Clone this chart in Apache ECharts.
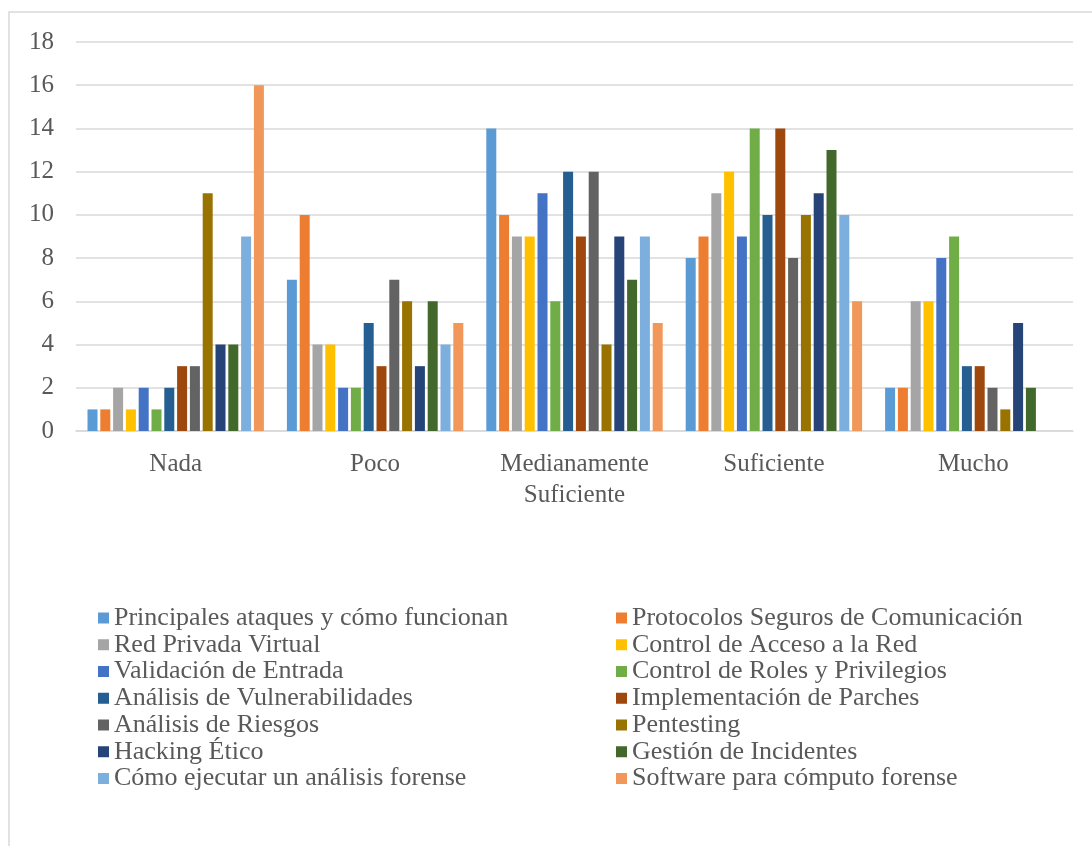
<!DOCTYPE html>
<html>
<head>
<meta charset="utf-8">
<script src="https://cdn.jsdelivr.net/npm/echarts@6/dist/echarts.min.js"></script>
<style>
html,body{margin:0;padding:0;background:#fff;}
#chart{width:1092px;height:846px;}
</style>
</head>
<body>
<div id="chart"></div>
<script>
const categories = ['Nada', 'Poco', 'Medianamente\nSuficiente', 'Suficiente', 'Mucho'];
const seriesNames = [
  'Principales ataques y cómo funcionan',
  'Protocolos Seguros de Comunicación',
  'Red Privada Virtual',
  'Control de Acceso a la Red',
  'Validación de Entrada',
  'Control de Roles y Privilegios',
  'Análisis de Vulnerabilidades',
  'Implementación de Parches',
  'Análisis de Riesgos',
  'Pentesting',
  'Hacking Ético',
  'Gestión de Incidentes',
  'Cómo ejecutar un análisis forense',
  'Software para cómputo forense'
];
const principales = [1, 7, 14, 8, 2];
const protocolos = [1, 10, 10, 9, 2];
const redPrivada = [2, 4, 9, 11, 6];
const controlAcceso = [1, 4, 9, 12, 6];
const validacion = [2, 2, 11, 9, 8];
const controlRoles = [1, 2, 6, 14, 9];
const vulnerabilidades = [2, 5, 12, 10, 3];
const parches = [3, 3, 9, 14, 3];
const riesgos = [3, 7, 12, 8, 2];
const pentesting = [11, 6, 4, 10, 1];
const hacking = [4, 3, 9, 11, 5];
const incidentes = [4, 6, 7, 13, 2];
const forense = [9, 4, 9, 10, 0];
const software = [16, 5, 5, 6, 0];
const yTicks = [0, 2, 4, 6, 8, 10, 12, 14, 16, 18];

const seriesValues = [principales, protocolos, redPrivada, controlAcceso, validacion, controlRoles,
  vulnerabilidades, parches, riesgos, pentesting, hacking, incidentes, forense, software];
const colors = ['#5B9BD5', '#ED7D31', '#A5A5A5', '#FFC000', '#4472C4', '#70AD47', '#255E91',
  '#9E480E', '#636363', '#997300', '#264478', '#43682B', '#7CAFDD', '#F1975A'];

const font = '"Liberation Serif", "Times New Roman", serif';
const chart = echarts.init(document.getElementById('chart'));

const legendBase = {
  orient: 'vertical',
  top: 605,
  padding: 0,
  itemWidth: 11,
  itemHeight: 11,
  itemGap: 0.75,
  icon: 'rect',
  textStyle: { fontFamily: font, fontSize: 26, color: '#595959', padding: [0, 0, 0, 0] },
  selectedMode: false
};

chart.setOption({
  animation: false,
  color: colors,
  graphic: [{
    type: 'rect',
    shape: { x: 9, y: 12, width: 1200, height: 900 },
    style: { fill: 'none', stroke: '#d9d9d9', lineWidth: 1.5 },
    silent: true
  }],
  legend: [
    Object.assign({}, legendBase, { left: 98, data: seriesNames.filter((n, i) => i % 2 === 0) }),
    Object.assign({}, legendBase, { left: 616, data: seriesNames.filter((n, i) => i % 2 === 1) })
  ],
  grid: { left: 76, right: 19, top: 42, bottom: 415, containLabel: false },
  xAxis: {
    type: 'category',
    data: categories,
    axisLine: { show: true, lineStyle: { color: '#d9d9d9', width: 1.5 } },
    axisTick: { show: false },
    axisLabel: { fontFamily: font, fontSize: 25, color: '#595959', margin: 18, lineHeight: 31, interval: 0 }
  },
  yAxis: {
    type: 'value',
    min: yTicks[0],
    max: yTicks[yTicks.length - 1],
    interval: 2,
    axisLine: { show: false },
    axisTick: { show: false },
    splitLine: { lineStyle: { color: '#d9d9d9', width: 1.5 } },
    axisLabel: { fontFamily: font, fontSize: 25, color: '#595959', margin: 22 }
  },
  series: seriesNames.map((name, i) => ({
    name: name,
    type: 'bar',
    data: seriesValues[i],
    barWidth: 10,
    barGap: '28%',
    itemStyle: { color: colors[i] }
  }))
});
</script>
</body>
</html>
